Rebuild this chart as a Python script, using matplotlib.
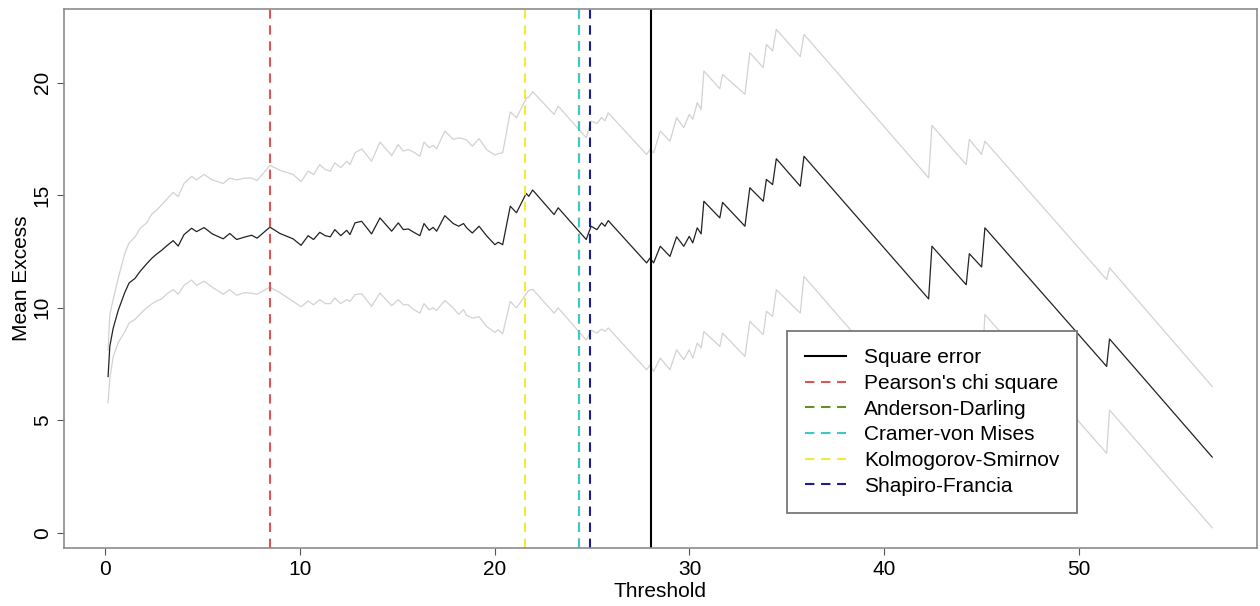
import matplotlib.pyplot as plt

plt.rcParams['font.family'] = ['Liberation Sans', 'DejaVu Sans']

# Mean excess curve with its confidence bounds
threshold = [0.15, 0.24, 0.41, 0.67, 1.01, 1.23, 1.53, 1.80, 2.13, 2.40,
             2.64, 2.90, 3.15, 3.49, 3.75, 4.05, 4.44, 4.69, 5.08, 5.50,
             6.06, 6.40, 6.75, 7.17, 7.52, 7.80, 8.46, 8.97, 9.65, 10.06,
             10.42, 10.70, 11.02, 11.30, 11.56, 11.79, 12.10, 12.40, 12.57, 12.83,
             13.17, 13.68, 14.11, 14.71, 15.05, 15.31, 15.56, 15.85, 16.16, 16.37,
             16.64, 16.84, 17.02, 17.44, 17.87, 18.15, 18.40, 18.56, 18.85, 19.20,
             19.58, 20.01, 20.18, 20.41, 20.80, 21.12, 21.62, 21.75, 21.95, 23.05,
             23.26, 24.70, 24.95, 25.25, 25.49, 25.66, 25.83, 27.80, 27.98, 28.16,
             28.50, 29.00, 29.34, 29.71, 29.99, 30.17, 30.40, 30.60, 30.74, 31.56,
             31.70, 32.85, 33.10, 33.79, 33.95, 34.27, 34.46, 35.69, 35.88, 42.28,
             42.45, 44.21, 44.37, 45.00, 45.17, 51.42, 51.57, 56.84]

mean_excess = [6.94, 8.29, 9.08, 9.88, 10.68, 11.10, 11.30, 11.62, 11.95, 12.20,
               12.38, 12.55, 12.74, 12.98, 12.74, 13.25, 13.53, 13.38, 13.56, 13.28,
               13.06, 13.30, 13.03, 13.14, 13.22, 13.09, 13.58, 13.30, 13.06, 12.77,
               13.20, 13.03, 13.35, 13.20, 13.15, 13.47, 13.20, 13.44, 13.25, 13.77,
               13.84, 13.28, 13.99, 13.40, 13.77, 13.47, 13.50, 13.35, 13.20, 13.74,
               13.44, 13.57, 13.40, 14.09, 13.74, 13.62, 13.74, 13.55, 13.32, 13.62,
               13.20, 12.80, 12.91, 12.80, 14.51, 14.22, 15.08, 14.95, 15.23, 14.14,
               14.44, 13.03, 13.62, 13.47, 13.77, 13.62, 13.87, 11.99, 12.21, 11.99,
               12.73, 12.28, 13.15, 12.73, 13.17, 12.88, 13.55, 13.28, 14.73, 13.99,
               14.68, 13.62, 15.33, 14.73, 15.70, 15.47, 16.62, 15.40, 16.73, 10.39,
               12.73, 11.02, 12.40, 11.81, 13.55, 7.39, 8.61, 3.36]

upper_bound = [8.10, 9.70, 10.35, 11.30, 12.42, 12.88, 13.14, 13.53, 13.77, 14.17,
               14.33, 14.57, 14.81, 15.12, 14.94, 15.52, 15.84, 15.68, 15.92, 15.68,
               15.52, 15.76, 15.68, 15.76, 15.76, 15.65, 16.32, 16.11, 15.92, 15.60,
               16.07, 15.92, 16.36, 16.14, 16.07, 16.44, 16.22, 16.51, 16.36, 16.88,
               17.06, 16.51, 17.36, 16.76, 17.25, 16.96, 17.03, 16.91, 16.73, 17.36,
               17.11, 17.21, 17.06, 17.85, 17.48, 17.55, 17.50, 17.45, 17.18, 17.51,
               17.03, 16.78, 16.85, 16.88, 18.70, 18.44, 19.30, 19.35, 19.60, 18.59,
               18.96, 17.55, 18.29, 18.19, 18.45, 18.30, 18.66, 16.81, 17.03, 16.88,
               17.85, 17.40, 18.44, 18.00, 18.59, 18.37, 19.11, 18.81, 20.52, 19.73,
               20.37, 19.48, 21.33, 20.67, 21.70, 21.41, 22.37, 21.16, 22.15, 15.77,
               18.10, 16.36, 17.48, 16.81, 17.40, 11.25, 11.77, 6.50]

lower_bound = [5.78, 6.86, 7.81, 8.45, 8.93, 9.32, 9.48, 9.72, 10.00, 10.17,
               10.30, 10.39, 10.60, 10.80, 10.60, 10.99, 11.23, 10.99, 11.18, 10.91,
               10.60, 10.80, 10.55, 10.67, 10.64, 10.60, 10.91, 10.67, 10.28, 10.04,
               10.30, 10.13, 10.36, 10.18, 10.18, 10.43, 10.18, 10.36, 10.28, 10.58,
               10.62, 10.06, 10.65, 10.09, 10.36, 10.13, 10.13, 9.91, 9.76, 10.18,
               9.91, 9.99, 9.88, 10.32, 9.99, 9.70, 9.91, 9.65, 9.54, 9.60,
               9.17, 8.90, 9.02, 8.84, 10.28, 9.99, 10.62, 10.77, 10.82, 9.76,
               9.99, 8.56, 9.00, 8.87, 9.05, 8.95, 9.10, 7.24, 7.46, 7.17,
               7.76, 7.24, 8.13, 7.69, 8.13, 7.76, 8.43, 8.21, 8.94, 8.28,
               8.87, 7.83, 9.39, 8.80, 9.84, 9.61, 10.80, 9.76, 11.39, 5.03,
               7.40, 5.68, 7.32, 6.81, 9.70, 3.53, 5.45, 0.22]

# Thresholds selected by each criterion
methods = ["Square error", "Pearson's chi square", "Anderson-Darling",
           "Cramer-von Mises", "Kolmogorov-Smirnov", "Shapiro-Francia"]
selected = [28.03, 8.47, 24.34, 24.34, 21.55, 24.90]
colors = ["black", "#dd5656", "#6b8e23", "#3fc6c8", "#f0ea3a", "#1c1c96"]

fig = plt.figure(figsize=(12.6, 6.06), dpi=100)
ax = fig.add_axes([0.0510, 0.0962, 0.9463, 0.8884])

ax.plot(threshold, upper_bound, color="#d2d2d2", lw=0.9)
ax.plot(threshold, lower_bound, color="#d2d2d2", lw=0.9)
ax.plot(threshold, mean_excess, color="#222222", lw=0.9)

lw = 1.5
handles = []
for name, x, c in zip(methods, selected, colors):
    if name == "Square error":
        h = ax.axvline(x, color=c, lw=lw, label=name)
    else:
        h = ax.axvline(x, color=c, lw=lw, dashes=(4.5, 3.2), label=name)
    handles.append(h)

ax.set_xlim(-2.1, 59.12)
ax.set_ylim(-0.667, 23.26)
ax.set_xticks([0, 10, 20, 30, 40, 50])
ax.set_yticks([0, 5, 10, 15, 20])
ax.tick_params(labelsize=15, length=5, width=0.8, color="#555555", pad=4)
plt.setp(ax.get_yticklabels(), rotation=90, va="center")
for s in ax.spines.values():
    s.set_color("#8c8c8c")
    s.set_linewidth(1.2)

ax.set_xlabel("Threshold", fontsize=15, labelpad=2)
ax.set_ylabel("Mean Excess", fontsize=15, labelpad=1)

leg = ax.legend(handles=handles, loc="upper left",
                bbox_to_anchor=(787.3 / 1260, 1 - 330.7 / 606),
                bbox_transform=fig.transFigure, fontsize=15,
                fancybox=False, framealpha=1, edgecolor="#777777",
                borderaxespad=0, borderpad=0.85, handlelength=1.95,
                handletextpad=0.9, labelspacing=0.32)
leg.get_frame().set_linewidth(1.3)

fig.savefig("out.png", dpi=100)
